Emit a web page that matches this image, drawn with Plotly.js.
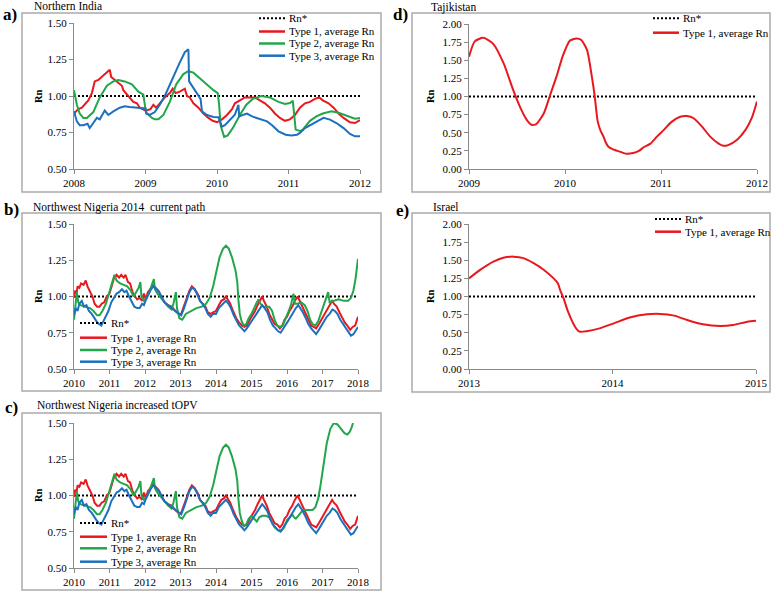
<!DOCTYPE html>
<html>
<head>
<meta charset="utf-8">
<script src="https://cdn.plot.ly/plotly-3.0.1.min.js"></script>
<style>html,body{margin:0;padding:0;background:#fff;}#chart{width:778px;height:592px;}</style>
</head>
<body>
<div id="chart"></div>
<script>
// ---------- Data ----------
const legendLabels = ["Rn*", "Type 1, average Rn", "Type 2, average Rn", "Type 3, average Rn"];
const panelTitles = ["Northern India", "Northwest Nigeria 2014 \u00a0current path", "Northwest Nigeria increased tOPV", "Tajikistan", "Israel"];
const panelLetters = ["a)", "b)", "c)", "d)", "e)"];
const yTitle = "Rn";
const rnStar = 1.0;

// a) Northern India
const indiaYears = [2008, 2009, 2010, 2011, 2012];
const indiaT1x = [2008.00,2008.06,2008.11,2008.15,2008.20,2008.25,2008.29,2008.34,2008.39,2008.46,2008.50,2008.52,2008.57,2008.62,2008.67,2008.69,2008.74,2008.78,2008.83,2008.88,2008.92,2008.96,2009.00,2009.07,2009.11,2009.15,2009.20,2009.27,2009.34,2009.38,2009.42,2009.48,2009.55,2009.58,2009.62,2009.67,2009.74,2009.81,2009.88,2009.94,2010.00,2010.07,2010.14,2010.21,2010.25,2010.32,2010.39,2010.46,2010.53,2010.60,2010.67,2010.74,2010.81,2010.88,2010.95,2011.02,2011.09,2011.16,2011.23,2011.30,2011.37,2011.43,2011.48,2011.56,2011.63,2011.70,2011.77,2011.86,2011.93,2012.00];
const indiaT1y = [0.88,0.91,0.92,0.94,0.97,1.02,1.10,1.11,1.13,1.16,1.18,1.13,1.11,1.09,1.07,1.04,1.01,0.99,0.96,0.95,0.92,0.91,0.90,0.91,0.94,0.92,0.95,0.99,1.02,1.05,1.02,1.03,1.05,1.00,0.99,0.95,0.92,0.88,0.85,0.83,0.82,0.84,0.87,0.91,0.95,0.97,0.99,0.99,0.99,0.97,0.95,0.92,0.88,0.85,0.83,0.84,0.87,0.92,0.95,0.96,0.98,0.99,0.97,0.95,0.92,0.88,0.85,0.82,0.815,0.835];
const indiaT2x = [2008.00,2008.04,2008.08,2008.13,2008.18,2008.27,2008.36,2008.46,2008.55,2008.62,2008.71,2008.81,2008.90,2008.94,2008.97,2009.00,2009.02,2009.09,2009.13,2009.18,2009.25,2009.34,2009.43,2009.53,2009.60,2009.67,2009.76,2009.85,2009.95,2010.01,2010.03,2010.05,2010.10,2010.15,2010.22,2010.32,2010.41,2010.50,2010.62,2010.74,2010.86,2010.95,2011.02,2011.06,2011.08,2011.10,2011.16,2011.20,2011.30,2011.39,2011.48,2011.60,2011.71,2011.83,2011.93,2012.00];
const indiaT2y = [1.04,0.94,0.88,0.85,0.85,0.89,0.99,1.07,1.10,1.11,1.10,1.08,1.03,1.02,1.01,0.91,0.88,0.85,0.84,0.84,0.87,0.96,1.08,1.15,1.17,1.16,1.12,1.08,1.04,1.02,0.94,0.80,0.72,0.73,0.78,0.87,0.94,0.98,1.00,0.99,0.96,0.945,0.952,0.968,0.85,0.77,0.76,0.77,0.83,0.86,0.88,0.895,0.884,0.86,0.845,0.85];
const indiaT3x = [2008.00,2008.04,2008.08,2008.13,2008.19,2008.22,2008.27,2008.32,2008.36,2008.41,2008.43,2008.48,2008.55,2008.64,2008.71,2008.78,2008.88,2008.95,2009.00,2009.01,2009.06,2009.13,2009.20,2009.27,2009.34,2009.41,2009.48,2009.55,2009.60,2009.61,2009.67,2009.74,2009.77,2009.79,2009.86,2009.95,2010.02,2010.04,2010.07,2010.11,2010.16,2010.20,2010.25,2010.30,2010.31,2010.37,2010.42,2010.49,2010.56,2010.63,2010.70,2010.77,2010.86,2010.96,2011.04,2011.12,2011.16,2011.23,2011.30,2011.39,2011.49,2011.58,2011.67,2011.77,2011.86,2011.93,2012.00];
const indiaT3y = [0.895,0.826,0.80,0.80,0.81,0.78,0.815,0.85,0.84,0.88,0.90,0.87,0.895,0.92,0.93,0.925,0.92,0.92,0.915,0.88,0.87,0.89,0.94,1.00,1.08,1.16,1.23,1.30,1.32,1.10,1.055,1.00,0.98,0.895,0.87,0.856,0.855,0.826,0.79,0.80,0.826,0.85,0.872,0.94,0.86,0.872,0.88,0.86,0.85,0.838,0.826,0.80,0.758,0.735,0.73,0.735,0.747,0.78,0.80,0.826,0.85,0.838,0.815,0.78,0.74,0.724,0.724];

// b) and c) Northwest Nigeria
const nigeriaYears = [2010, 2011, 2012, 2013, 2014, 2015, 2016, 2017, 2018];
const nigeriaT1x = [2010.00,2010.03,2010.07,2010.10,2010.15,2010.20,2010.27,2010.33,2010.38,2010.45,2010.52,2010.58,2010.65,2010.72,2010.78,2010.85,2010.92,2011.00,2011.07,2011.13,2011.20,2011.27,2011.33,2011.40,2011.45,2011.52,2011.58,2011.65,2011.72,2011.78,2011.85,2011.92,2011.97,2012.02,2012.08,2012.15,2012.22,2012.30,2012.38,2012.45,2012.55,2012.65,2012.75,2012.85,2012.95,2013.02,2013.10,2013.18,2013.25,2013.32,2013.40,2013.48,2013.55,2013.62,2013.70,2013.77,2013.85,2013.92,2014.00,2014.08,2014.15,2014.22,2014.28,2014.33,2014.40,2014.48,2014.57,2014.65,2014.73,2014.80,2014.87,2014.95,2015.03,2015.10,2015.17,2015.23,2015.30,2015.35,2015.43,2015.50,2015.58,2015.65,2015.73,2015.80,2015.87,2015.93,2016.00,2016.07,2016.15,2016.22,2016.30,2016.36,2016.43,2016.52,2016.60,2016.68,2016.75,2016.82,2016.90,2016.97,2017.05,2017.12,2017.20,2017.27,2017.32,2017.40,2017.48,2017.56,2017.63,2017.70,2017.78,2017.85,2017.92,2018.00];
const nigeriaT1y = [0.99,1.04,1.02,1.07,1.06,1.09,1.08,1.11,1.07,1.04,1.00,0.95,0.93,0.93,0.95,0.96,1.00,1.02,1.08,1.13,1.15,1.13,1.15,1.13,1.15,1.10,1.09,1.03,1.00,0.98,0.99,0.97,1.02,0.98,1.03,1.05,1.08,1.06,1.04,1.00,0.96,0.94,0.93,0.90,0.88,0.88,0.93,0.99,1.04,1.07,1.05,1.02,0.97,0.95,0.93,0.89,0.88,0.89,0.90,0.94,0.97,0.98,1.00,0.98,0.95,0.90,0.85,0.82,0.80,0.79,0.80,0.84,0.87,0.90,0.94,0.97,1.00,0.97,0.93,0.88,0.84,0.81,0.80,0.78,0.80,0.84,0.86,0.90,0.93,0.97,1.00,0.97,0.93,0.88,0.84,0.80,0.79,0.78,0.81,0.84,0.87,0.90,0.93,0.97,0.95,0.93,0.89,0.85,0.82,0.80,0.77,0.79,0.80,0.86];
const nigeriaT3x = [2010.00,2010.05,2010.10,2010.15,2010.22,2010.28,2010.35,2010.42,2010.50,2010.57,2010.63,2010.70,2010.77,2010.83,2010.90,2010.97,2011.05,2011.12,2011.20,2011.27,2011.35,2011.42,2011.48,2011.55,2011.62,2011.70,2011.78,2011.85,2011.92,2011.97,2012.03,2012.10,2012.17,2012.24,2012.32,2012.40,2012.48,2012.55,2012.65,2012.75,2012.85,2012.95,2013.02,2013.10,2013.18,2013.25,2013.32,2013.40,2013.48,2013.55,2013.62,2013.70,2013.77,2013.85,2013.92,2014.00,2014.08,2014.15,2014.22,2014.28,2014.35,2014.42,2014.50,2014.58,2014.65,2014.73,2014.80,2014.87,2014.95,2015.03,2015.10,2015.17,2015.23,2015.30,2015.37,2015.45,2015.52,2015.60,2015.68,2015.75,2015.82,2015.88,2015.95,2016.03,2016.10,2016.18,2016.25,2016.32,2016.38,2016.45,2016.53,2016.60,2016.68,2016.75,2016.82,2016.90,2016.97,2017.05,2017.12,2017.20,2017.28,2017.35,2017.42,2017.50,2017.58,2017.65,2017.72,2017.80,2017.87,2017.93,2018.00];
const nigeriaT3y = [0.87,0.92,0.90,0.95,0.97,0.93,0.94,0.90,0.88,0.85,0.83,0.81,0.80,0.83,0.86,0.90,0.96,0.99,1.02,1.03,1.05,1.03,1.04,1.00,0.97,0.93,0.92,0.92,0.95,0.94,0.98,1.02,1.05,1.07,1.05,1.03,0.99,0.96,0.94,0.92,0.90,0.88,0.87,0.92,0.98,1.03,1.06,1.05,1.01,0.97,0.95,0.92,0.88,0.86,0.88,0.88,0.92,0.94,0.96,0.97,0.95,0.92,0.87,0.83,0.80,0.78,0.76,0.78,0.81,0.84,0.87,0.90,0.92,0.94,0.92,0.89,0.84,0.80,0.78,0.76,0.75,0.77,0.80,0.83,0.86,0.89,0.92,0.94,0.92,0.89,0.85,0.81,0.78,0.76,0.74,0.77,0.80,0.83,0.86,0.88,0.91,0.90,0.88,0.84,0.81,0.78,0.76,0.73,0.74,0.76,0.79];
const nigeriaBT2x = [2010.00,2010.04,2010.08,2010.12,2010.18,2010.30,2010.45,2010.55,2010.65,2010.72,2010.80,2010.90,2011.00,2011.08,2011.14,2011.20,2011.30,2011.40,2011.50,2011.60,2011.68,2011.75,2011.82,2011.87,2011.90,2011.97,2012.05,2012.12,2012.20,2012.25,2012.28,2012.35,2012.45,2012.55,2012.65,2012.75,2012.80,2012.87,2012.90,2012.97,2013.05,2013.15,2013.30,2013.45,2013.60,2013.72,2013.82,2013.92,2014.00,2014.10,2014.20,2014.28,2014.36,2014.45,2014.55,2014.60,2014.63,2014.67,2014.72,2014.78,2014.85,2014.92,2015.00,2015.08,2015.15,2015.20,2015.25,2015.35,2015.50,2015.58,2015.65,2015.72,2015.80,2015.88,2015.97,2016.05,2016.12,2016.18,2016.22,2016.30,2016.40,2016.50,2016.58,2016.65,2016.72,2016.80,2016.88,2016.95,2017.05,2017.12,2017.16,2017.20,2017.30,2017.45,2017.60,2017.72,2017.80,2017.87,2017.93,2018.00];
const nigeriaBT2y = [0.84,0.95,1.03,0.96,0.94,0.93,0.92,0.90,0.87,0.87,0.90,0.95,1.03,1.10,1.15,1.11,1.09,1.08,1.07,1.04,1.00,1.03,1.06,1.10,1.00,0.97,0.99,1.03,1.09,1.12,1.05,1.02,0.99,0.96,0.93,0.91,0.95,1.03,0.92,0.85,0.84,0.88,0.90,0.92,0.93,0.95,0.99,1.07,1.16,1.27,1.33,1.35,1.33,1.27,1.18,1.10,0.98,0.88,0.83,0.80,0.81,0.85,0.88,0.93,0.96,0.98,0.95,0.93,0.93,0.90,0.84,0.80,0.79,0.80,0.85,0.90,0.95,1.02,0.95,0.95,0.96,0.94,0.90,0.84,0.81,0.80,0.83,0.88,0.94,0.99,1.03,0.96,0.97,0.98,0.97,0.97,0.99,1.04,1.12,1.26];
const nigeriaCT2x = [2010.00,2010.04,2010.08,2010.12,2010.18,2010.30,2010.45,2010.55,2010.65,2010.72,2010.80,2010.90,2011.00,2011.08,2011.14,2011.20,2011.30,2011.40,2011.50,2011.60,2011.68,2011.75,2011.82,2011.87,2011.90,2011.97,2012.05,2012.12,2012.20,2012.25,2012.28,2012.35,2012.45,2012.55,2012.65,2012.75,2012.80,2012.87,2012.90,2012.97,2013.05,2013.15,2013.30,2013.45,2013.60,2013.72,2013.82,2013.92,2014.00,2014.10,2014.20,2014.28,2014.36,2014.45,2014.55,2014.60,2014.63,2014.67,2014.72,2014.78,2014.85,2014.92,2015.00,2015.07,2015.15,2015.22,2015.30,2015.40,2015.50,2015.57,2015.65,2015.75,2015.85,2015.92,2016.00,2016.08,2016.15,2016.20,2016.25,2016.35,2016.45,2016.60,2016.72,2016.80,2016.88,2016.95,2017.03,2017.12,2017.22,2017.32,2017.42,2017.52,2017.62,2017.70,2017.77,2017.82,2017.86];
const nigeriaCT2y = [0.84,0.95,1.03,0.96,0.94,0.93,0.92,0.90,0.87,0.87,0.90,0.95,1.03,1.10,1.15,1.11,1.09,1.08,1.07,1.04,1.00,1.03,1.06,1.10,1.00,0.97,0.99,1.03,1.09,1.12,1.05,1.02,0.99,0.96,0.93,0.91,0.95,1.03,0.92,0.85,0.84,0.88,0.90,0.92,0.93,0.95,0.99,1.07,1.16,1.27,1.33,1.35,1.33,1.27,1.18,1.10,0.98,0.88,0.83,0.79,0.80,0.84,0.86,0.84,0.82,0.85,0.86,0.86,0.85,0.82,0.78,0.76,0.76,0.78,0.83,0.85,0.87,0.85,0.84,0.87,0.90,0.90,0.90,0.92,0.98,1.08,1.22,1.36,1.46,1.50,1.49,1.46,1.43,1.42,1.44,1.47,1.50];

// d) Tajikistan
const tajikYears = [2009, 2010, 2011, 2012];
const tajikT1x = [2009.00,2009.06,2009.15,2009.25,2009.36,2009.46,2009.53,2009.60,2009.65,2009.70,2009.78,2009.84,2009.91,2009.98,2010.05,2010.12,2010.17,2010.23,2010.28,2010.31,2010.34,2010.37,2010.40,2010.42,2010.45,2010.50,2010.57,2010.64,2010.71,2010.77,2010.82,2010.89,2010.96,2011.03,2011.11,2011.20,2011.27,2011.34,2011.43,2011.51,2011.60,2011.65,2011.70,2011.79,2011.88,2011.95,2012.00];
const tajikT1y = [1.55,1.76,1.81,1.73,1.46,1.09,0.86,0.68,0.61,0.62,0.77,1.00,1.27,1.57,1.77,1.80,1.78,1.64,1.27,1.00,0.66,0.53,0.45,0.38,0.31,0.27,0.24,0.21,0.22,0.25,0.30,0.35,0.45,0.54,0.65,0.72,0.73,0.70,0.58,0.45,0.35,0.32,0.33,0.40,0.54,0.72,0.93];

// e) Israel
const israelYears = [2013, 2014, 2015];
const israelT1x = [2013.00,2013.08,2013.17,2013.24,2013.31,2013.38,2013.45,2013.52,2013.59,2013.62,2013.635,2013.66,2013.69,2013.74,2013.77,2013.82,2013.91,2014.01,2014.12,2014.24,2014.33,2014.43,2014.52,2014.63,2014.75,2014.84,2014.94,2015.00];
const israelT1y = [1.25,1.37,1.48,1.535,1.55,1.53,1.46,1.37,1.25,1.18,1.09,0.97,0.79,0.58,0.515,0.52,0.56,0.63,0.71,0.754,0.76,0.736,0.676,0.616,0.593,0.607,0.653,0.667];

// ---------- Styling ----------
const W = 778, H = 592;
const RED = '#e8181f', GREEN = '#22a64b', BLUE = '#1c70be';
const SERIF = "'Liberation Serif', 'Times New Roman', serif";
const px = x => x / W;
const py = y => 1 - y / H;

const traces = [];
function line(x, y, color, xa, ya, shape) {
  traces.push({x: x, y: y, type: 'scatter', mode: 'lines', xaxis: xa, yaxis: ya, showlegend: false,
    hoverinfo: 'skip', line: {color: color, width: 2, shape: shape || 'linear', smoothing: 0.6}});
}
function rnLine(years, xa, ya) {
  traces.push({x: [years[0], years[years.length - 1]], y: [rnStar, rnStar], type: 'scatter', mode: 'lines',
    xaxis: xa, yaxis: ya, showlegend: false, hoverinfo: 'skip',
    line: {color: '#000', width: 2, dash: '2px,2px'}});
}

// a
rnLine(indiaYears, 'x', 'y');
line(indiaT1x, indiaT1y, RED, 'x', 'y');
line(indiaT2x, indiaT2y, GREEN, 'x', 'y');
line(indiaT3x, indiaT3y, BLUE, 'x', 'y');
// b
rnLine(nigeriaYears, 'x2', 'y2');
line(nigeriaT1x, nigeriaT1y, RED, 'x2', 'y2');
line(nigeriaBT2x, nigeriaBT2y, GREEN, 'x2', 'y2');
line(nigeriaT3x, nigeriaT3y, BLUE, 'x2', 'y2');
// c
rnLine(nigeriaYears, 'x3', 'y3');
line(nigeriaT1x, nigeriaT1y, RED, 'x3', 'y3');
line(nigeriaCT2x, nigeriaCT2y, GREEN, 'x3', 'y3');
line(nigeriaT3x, nigeriaT3y, BLUE, 'x3', 'y3');
// d
rnLine(tajikYears, 'x4', 'y4');
line(tajikT1x, tajikT1y, RED, 'x4', 'y4', 'spline');
// e
rnLine(israelYears, 'x5', 'y5');
line(israelT1x, israelT1y, RED, 'x5', 'y5', 'spline');

function xAxis(p0, p1, yBottom, years, anchor) {
  return {domain: [px(p0), px(p1)], anchor: anchor, range: [years[0], years[years.length - 1]],
    tickvals: years, ticktext: years.map(String), showline: true, linecolor: '#8a8a8a', linewidth: 1,
    ticks: 'outside', ticklen: 4, tickcolor: '#8a8a8a', showgrid: false, zeroline: false,
    tickfont: {family: SERIF, size: 11, color: '#000'}, fixedrange: true};
}
function yAxis(top, bottom, range, dtick, anchor) {
  return {domain: [py(bottom), py(top)], anchor: anchor, range: range, dtick: dtick, tick0: 0,
    tickformat: '.2f', showline: true, linecolor: '#8a8a8a', linewidth: 1, ticks: 'outside', ticklen: 4,
    tickcolor: '#8a8a8a', showgrid: false, zeroline: false,
    tickfont: {family: SERIF, size: 11, color: '#000'}, fixedrange: true};
}

const shapes = [];
const annotations = [];
function box(x0, y0, x1, y1) {
  shapes.push({type: 'rect', xref: 'paper', yref: 'paper', x0: px(x0), x1: px(x1), y0: py(y1), y1: py(y0),
    line: {color: '#ababab', width: 1.5}, fillcolor: 'rgba(0,0,0,0)', layer: 'below'});
}
function txt(text, x, y, opts) {
  annotations.push(Object.assign({text: text, xref: 'paper', yref: 'paper', x: px(x), y: py(y),
    xanchor: 'left', yanchor: 'middle', showarrow: false,
    font: {family: SERIF, size: 11.5, color: '#000'}}, opts || {}));
}
function legend(x0, x1, xt, ys, colors) {
  ys.forEach((y, i) => {
    const dotted = i === 0;
    shapes.push({type: 'line', xref: 'paper', yref: 'paper', x0: px(x0), x1: px(x1), y0: py(y), y1: py(y),
      line: {color: colors[i], width: dotted ? 2 : 2.5, dash: dotted ? '2px,2px' : 'solid'}});
    txt(legendLabels[i], xt, y, {font: {family: SERIF, size: 11, color: '#000'}});
  });
}

// panel boxes
box(22, 13, 381, 192);
box(22, 213, 381, 391);
box(22, 413, 381, 590);
box(412, 13, 770, 192);
box(412, 213, 770, 392);

// titles and letters
const titlePos = [[32, 6], [31, 207], [35, 405], [429, 7], [431, 207]];
const letterPos = [[1, 14], [2, 209], [3, 407], [391, 14], [394, 210]];
panelTitles.forEach((t, i) => txt(t, titlePos[i][0], titlePos[i][1]));
panelLetters.forEach((t, i) => txt('<b>' + t + '</b>', letterPos[i][0], letterPos[i][1],
  {font: {family: SERIF, size: 17, color: '#000'}}));

// Rn axis labels
const rnPos = [[38, 96], [38, 296], [38, 495], [430, 96], [430, 296]];
rnPos.forEach(p => txt('<b>' + yTitle + '</b>', p[0], p[1],
  {xanchor: 'center', textangle: -90, font: {family: SERIF, size: 10.5, color: '#000'}}));

// legends
legend(259, 285, 287, [18.3, 31.5, 43.5, 55.7], ['#000', RED, GREEN, BLUE]);
legend(80, 107, 109, [323, 337.7, 350, 361.7], ['#000', RED, GREEN, BLUE]);
legend(80, 107, 109, [523, 536.7, 548.3, 561.7], ['#000', RED, GREEN, BLUE]);
legend(653, 679, 681, [18.3, 32.7], ['#000', RED]);
legend(655, 681, 683, [219, 231.7], ['#000', RED]);

const layout = {
  width: W, height: H, margin: {l: 0, r: 0, t: 0, b: 0}, paper_bgcolor: '#fff', plot_bgcolor: 'rgba(0,0,0,0)',
  showlegend: false,
  font: {family: SERIF},
  xaxis: xAxis(74, 360, 169, indiaYears, 'y'),
  yaxis: yAxis(23, 169, [0.5, 1.5], 0.25, 'x'),
  xaxis2: xAxis(74, 358, 369, nigeriaYears, 'y2'),
  yaxis2: yAxis(224, 369, [0.5, 1.5], 0.25, 'x2'),
  xaxis3: xAxis(74, 358, 568, nigeriaYears, 'y3'),
  yaxis3: yAxis(423, 568, [0.5, 1.5], 0.25, 'x3'),
  xaxis4: xAxis(469, 757, 169, tajikYears, 'y4'),
  yaxis4: yAxis(24, 169, [0, 2], 0.25, 'x4'),
  xaxis5: xAxis(469, 756, 369, israelYears, 'y5'),
  yaxis5: yAxis(224, 369, [0, 2], 0.25, 'x5'),
  shapes: shapes, annotations: annotations
};

Plotly.newPlot('chart', traces, layout, {staticPlot: true, displayModeBar: false});
</script>
</body>
</html>
